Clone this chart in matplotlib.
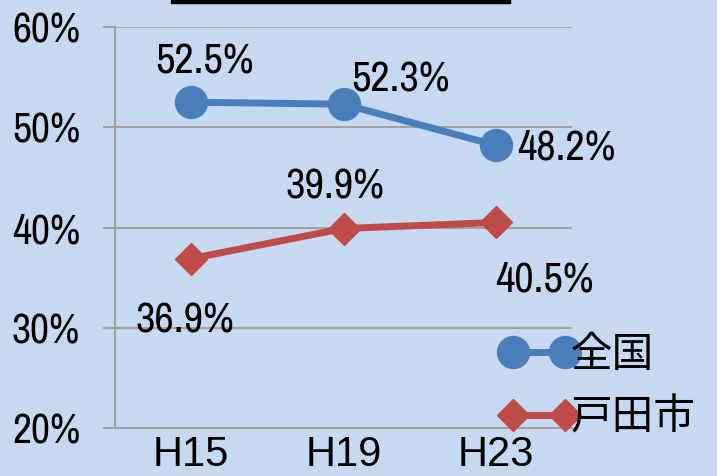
import matplotlib
matplotlib.use("Agg")
import matplotlib.pyplot as plt
from matplotlib.patches import Rectangle

categories = ["H15", "H19", "H23"]
zenkoku = [52.5, 52.3, 48.2]
toda = [36.9, 39.9, 40.5]
series_names = ["全国", "戸田市"]
yticks = [20, 30, 40, 50, 60]
ytick_labels = ["20%", "30%", "40%", "50%", "60%"]

BG = "#c6d9f0"
BLUE = "#4a7ebb"
RED = "#be4b48"
GRID = "#a0a0a0"
NARROW = ["Archivo Narrow", "Liberation Sans", "DejaVu Sans"]
CJK = ["Noto Sans CJK JP", "DejaVu Sans"]

fig = plt.figure(figsize=(7.17, 4.76), dpi=100, facecolor=BG)
ax = fig.add_axes([115/717, 1-428/476, 457/717, 401/476])
ax.set_facecolor(BG)

x = list(range(len(categories)))
l1, = ax.plot(x, zenkoku, color=BLUE, lw=5, marker="o", ms=23, label=series_names[0], zorder=3)
l2, = ax.plot(x, toda, color=RED, lw=5, marker="D", ms=16.5, label=series_names[1], zorder=3)

ax.set_xlim(-0.5, len(categories) - 0.5)
ax.set_ylim(20, 60)
ax.set_yticks(yticks)
ax.set_yticklabels(ytick_labels, fontfamily=NARROW, fontsize=30)
ax.set_xticks(x)
ax.set_xticklabels(categories, fontfamily=["Liberation Sans", "DejaVu Sans"], fontsize=30)
ax.tick_params(axis="y", length=8.6, width=1.4, color=GRID, pad=16.5)
ax.tick_params(axis="x", length=0, pad=5)
ax.grid(axis="y", color=GRID, lw=1.4, zorder=0)
ax.set_axisbelow(True)
for s in ["top", "right"]:
    ax.spines[s].set_visible(False)
ax.spines["left"].set_color(GRID)
ax.spines["left"].set_linewidth(1.4)
ax.spines["bottom"].set_color(GRID)
ax.spines["bottom"].set_linewidth(1.4)

# data labels (offsets in pixels)
off_z = [(13, 41), (57, 25), (70, -2)]
off_t = [(-6, -62), (-9, 42), (49, -57)]
for xi, v, o in zip(x, zenkoku, off_z):
    ax.annotate(f"{v:.1f}%", (xi, v), xytext=o, textcoords="offset pixels",
                ha="center", va="center", fontsize=30.5, fontfamily=NARROW, zorder=4)
for xi, v, o in zip(x, toda, off_t):
    ax.annotate(f"{v:.1f}%", (xi, v), xytext=o, textcoords="offset pixels",
                ha="center", va="center", fontsize=30.5, fontfamily=NARROW, zorder=4)

leg = fig.legend(handles=[l1, l2], loc="center left",
                 bbox_to_anchor=(500/717, 1-386.5/476), frameon=False,
                 numpoints=2, handlelength=1.85, handletextpad=-0.15,
                 borderpad=0, borderaxespad=0, labelspacing=0.52,
                 prop={"family": CJK, "size": 30})

# black bar at top (partial frame of cropped title)
fig.patches.append(Rectangle((171/717, 1-3/476), 339/717, 3/476,
                             transform=fig.transFigure, color="black", zorder=5))

fig.savefig("out.png", dpi=100, facecolor=BG)
